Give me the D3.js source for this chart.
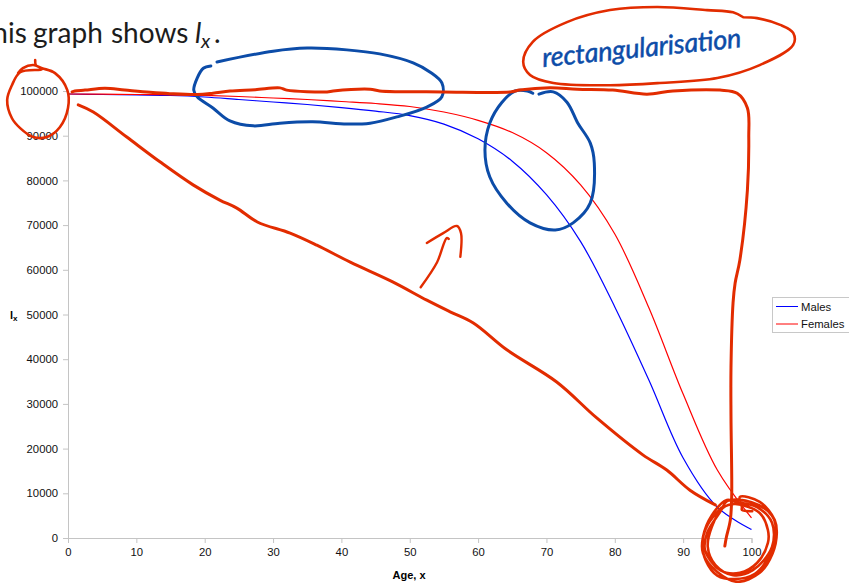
<!DOCTYPE html>
<html>
<head>
<meta charset="utf-8">
<script src="https://cdn.jsdelivr.net/npm/d3@7/dist/d3.min.js"></script>
<style>
html,body{margin:0;padding:0;background:#fff;overflow:hidden}
svg{display:block}
</style>
</head>
<body>
<script>
// Data
const ages = [0,5,10,15,20,25,30,35,40,45,50,55,60,65,70,75,80,85,90,95,100];
const males = [99330,99220,99100,98990,98660,98100,97540,96980,96300,95500,94500,92600,89300,84300,76800,66300,51700,35300,17900,6900,1900];
const females = [99330,99280,99220,99150,99000,98770,98430,98100,97650,97200,96530,95300,93440,90700,86200,79000,68000,51450,32200,15200,4500];
const seriesNames = ["Males","Females"];
const xTicks = [0,10,20,30,40,50,60,70,80,90,100];
const yTicks = [0,10000,20000,30000,40000,50000,60000,70000,80000,90000,100000];

// Pen annotations, as [age, lx in thousands]
const inkPlateau = [[0.6,99.8],[1,100],[2.5,100.2],[5.4,100.6],[8.3,100.2],[12,99.7],[14.9,99.4],[18.9,99.2],[21.2,99.5],[23.7,100],[27.4,100.3],[31,100.7],[32,100.2],[37.9,99.8],[38.8,100],[44.2,100.4],[45.6,100],[54.9,99.8],[64.7,99.8],[66.1,100.2],[70.5,100.7],[74.5,100.4],[79.7,100.2],[84.7,99.3],[88.5,100],[95.4,100.2],[97.9,99.5],[99.4,96.2],[99.6,89.7],[99.4,77.8],[98.3,62.2],[97.6,57],[97.3,52.6],[97,38.2],[97,27.1],[97.1,9.2],[96.9,4],[96.3,0],[96.1,-1.8]];
const inkLeftCircle = [[-4.8,106.9],[-4.7,105.8],[-3.8,104.9],[-7,104.2],[-8.2,101.3],[-8.9,98],[-8.2,93.9],[-7,91.7],[-5.1,89.7],[-3.1,89.7],[-1.2,91.9],[0,96.2],[-0.1,100.2],[-1.9,104],[-3.8,105.1],[-5.1,105.8],[-6.6,105.1],[-7.3,104]];
const inkTopOval = [[98.8,116.5],[97.3,117.6],[93.5,118.1],[86.2,118.8],[79.3,118.1],[73,115.4],[68,111],[66.6,106.5],[67.6,103.6],[71,101.8],[79.3,101.3],[86.6,101.8],[95,102.9],[101.2,105.8],[106.1,110.3],[106.1,113],[104.2,114.8],[100.8,116.3],[98.8,116.5]];
const inkDiagonal = [[1.5,96.9],[3.7,95.3],[8.6,89.7],[13.5,84.1],[18.3,79],[22.2,75.6],[24.7,73.8],[27.7,70.7],[32.5,68.2],[36.4,65.5],[41.3,61.7],[47.5,57.3],[52.5,53.2],[55.9,50.6],[59.3,48.1],[64.2,42.1],[71.5,34.9],[77.4,26.8],[84.1,18.6],[87.6,15.2],[91,10.7],[94.7,7.4]];
const inkArrowShaft = [[51.6,56.1],[54,61.7],[55.4,67.1],[55.7,66.9]];
const inkArrowHead = [[52.5,66],[54.9,68.2],[56.9,69.8],[57.5,68.2],[57.4,62.9]];
const inkScribble = [[100.1,6],[98.6,6.3],[98.6,6.9],[98.3,9.2],[101.2,8.1],[103.4,4],[103.7,1.1],[103.1,-3.4],[101.2,-7.8],[97.9,-9.8],[95,-7.6],[92.9,-3.4],[92.9,0.2],[94.2,5.1],[96.4,8.5],[97.6,8.1],[100.8,6.9],[103,3.4],[103,-2],[100.2,-7.2],[97.3,-8.3],[94.7,-6],[93.6,-2],[94.2,2.5],[95.8,6.7],[97.6,7.6],[101.2,5.6],[102.4,1.8],[102.4,-1.1],[100.8,-5.6],[98.3,-7.8],[95.4,-7.2],[93.2,-2.7],[93.5,1.1],[95.4,5.8],[96.5,8.3],[100,8],[103,5],[103.6,1],[102.6,-4],[100.5,-8],[97.5,-9.2],[95,-8.4],[93.3,-5],[92.8,-1],[93.6,3],[95.6,6.8]];
const inkBlueOval = [[20.9,105.6],[19.8,105.1],[18.9,102.9],[18.4,100.2],[18.9,98.7],[21.2,96.2],[23.7,93.3],[27.1,92.2],[31,92.8],[35.8,93.1],[40.8,92.6],[44.2,92.8],[48.1,94.2],[52.5,96.4],[54.7,98.7],[54.7,101.8],[53,104.2],[50.5,106.3],[45.6,108.3],[40.8,109.2],[35,109.6],[30,108.9],[21.8,106.5]];
const inkBlueCircle = [[68,99.5],[67.2,100],[65.4,100],[63.5,97.5],[61.7,92.8],[61,86.8],[61.7,80.8],[64.2,74.9],[67.6,70.5],[71.3,68.9],[73.9,70.5],[76.4,74.9],[77,83.9],[76.4,88.4],[74.6,92.8],[73,97.5],[71,99.8],[68.9,99.3]];

const W = 849, H = 583;
const FONT = '"Liberation Sans", Arial, sans-serif';
const svg = d3.select("body").append("svg").attr("width",W).attr("height",H).attr("viewBox",`0 0 ${W} ${H}`);

const x = d3.scaleLinear().domain([0,100]).range([68,751.5]);
const y = d3.scaleLinear().domain([0,100000]).range([538,91]);

// Slide heading
const heading = svg.append("text").attr("y",43).attr("fill","#1c1c1c")
  .attr("font-family",'Lato, "Open Sans", sans-serif').attr("font-size",28);
heading.append("tspan").attr("x",-24).text("This");
heading.append("tspan").attr("x",33).text("graph");
heading.append("tspan").attr("x",111).text("shows");
heading.append("tspan").attr("x",195).attr("font-style","italic").text("l");
heading.append("tspan").attr("x",201).attr("dy",5).attr("font-size",20).attr("font-style","italic").text("x");
heading.append("tspan").attr("x",214).attr("dy",-5).text(".");

// Axes
const axisX = svg.append("g").attr("transform",`translate(0,${y(0)})`)
  .call(d3.axisBottom(x).tickValues(xTicks).tickSize(5).tickPadding(5).tickFormat(d3.format("d")));
const axisY = svg.append("g").attr("transform",`translate(${x(0)},0)`)
  .call(d3.axisLeft(y).tickValues(yTicks).tickSize(5).tickPadding(5).tickFormat(d3.format("d")));
[axisX,axisY].forEach(g=>{
  g.selectAll("path,line").attr("stroke","#c4c4c4");
  g.selectAll("text").attr("font-family",FONT).attr("font-size",11.3).attr("fill","#111");
});

// Axis titles
svg.append("text").attr("x",409).attr("y",579).attr("text-anchor","middle")
  .attr("font-family",FONT).attr("font-size",11).attr("font-weight","bold").text("Age, x");
const yt = svg.append("text").attr("x",10).attr("y",319)
  .attr("font-family",FONT).attr("font-size",11).attr("font-weight","bold");
yt.append("tspan").text("l");
yt.append("tspan").attr("dy",2).attr("font-size",8).text("x");

// Series
const line = d3.line().x((d,i)=>x(ages[i])).y(d=>y(d)).curve(d3.curveCatmullRom.alpha(0.5));
const seriesValues = [males,females];
const seriesColors = d3.scaleOrdinal().domain(seriesNames).range(["#0000ff","#ff0000"]);
seriesNames.forEach((n,i)=>{
  svg.append("path").attr("d",line(seriesValues[i])).attr("fill","none")
    .attr("stroke",seriesColors(n)).attr("stroke-width",1.2);
});

// Legend
svg.append("rect").attr("x",772.5).attr("y",297.5).attr("width",90).attr("height",35)
  .attr("fill","#fff").attr("stroke","#c8c8c8");
const legendY = d3.scalePoint().domain(seriesNames).range([306.5,324]);
seriesNames.forEach(n=>{
  svg.append("line").attr("x1",776).attr("x2",798).attr("y1",legendY(n)).attr("y2",legendY(n))
    .attr("stroke",seriesColors(n)).attr("stroke-width",1);
  svg.append("text").attr("x",801).attr("y",legendY(n)+4).attr("font-family",FONT)
    .attr("font-size",11.3).attr("fill","#111").text(n);
});

// Pen annotations
const RED = "#e22c00", BLUE = "#0c4ca8";
const ink = d3.line().x(d=>x(d[0])).y(d=>y(d[1]*1000)).curve(d3.curveCatmullRom.alpha(0.5));
function stroke(pts,color,w){
  svg.append("path").attr("d",ink(pts)).attr("fill","none").attr("stroke",color)
    .attr("stroke-width",w).attr("stroke-linecap","round").attr("stroke-linejoin","round");
}
stroke(inkBlueOval,BLUE,3);
stroke(inkBlueCircle,BLUE,3);
stroke(inkPlateau,RED,3);
stroke(inkLeftCircle,RED,2.6);
stroke(inkTopOval,RED,2.6);
stroke(inkDiagonal,RED,3);
stroke(inkArrowShaft,RED,2.4);
stroke(inkArrowHead,RED,2.4);
stroke(inkScribble,RED,2.6);

// Handwritten note, kept as text
svg.append("text").attr("transform","translate(543,67) rotate(-5.7)")
  .attr("font-family",'Lato, "Open Sans", sans-serif').attr("font-style","italic")
  .attr("font-weight",400).attr("font-size",27).attr("fill",BLUE)
  .attr("stroke",BLUE).attr("stroke-width",0.5)
  .attr("textLength",200).attr("lengthAdjust","spacing").text("rectangularisation");
</script>
</body>
</html>
